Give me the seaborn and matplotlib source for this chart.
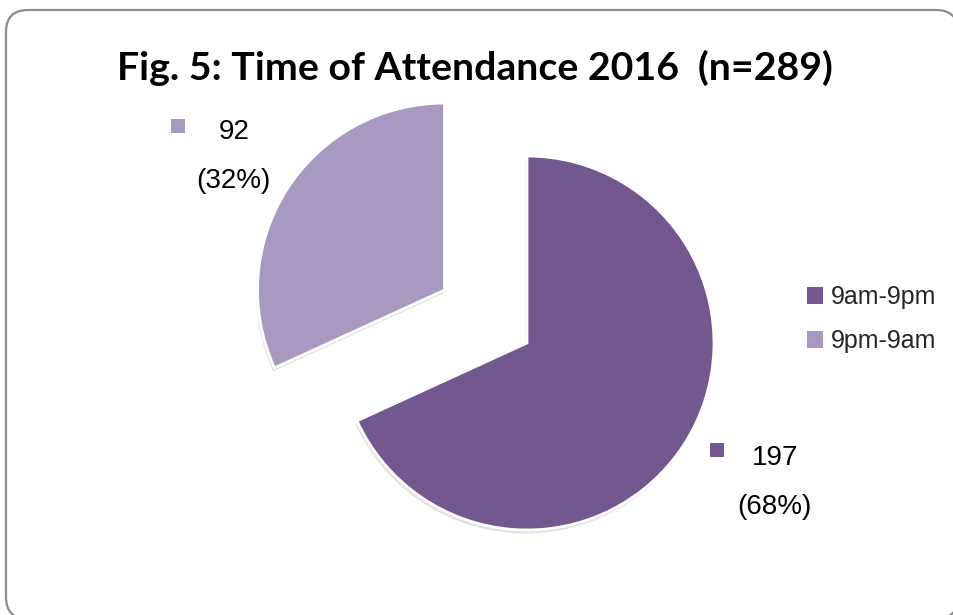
import matplotlib
matplotlib.use("Agg")
import matplotlib.pyplot as plt
import matplotlib.patheffects as pe
from matplotlib.patches import FancyBboxPatch
import seaborn as sns

# Data
categories = ["9am-9pm", "9pm-9am"]
counts = [197, 92]
total_n = 289
title = f"Fig. 5: Time of Attendance 2016  (n={total_n})"

sns.set_theme(style="white")
plt.rcParams["font.family"] = ["Liberation Sans", "DejaVu Sans"]

palette = sns.color_palette(["#72588F", "#A899C0"])

W, H = 954, 615
fig = plt.figure(figsize=(W / 100, H / 100), dpi=100)
ax = fig.add_axes([0, 0, 1, 1])
ax.set_xlim(0, W)
ax.set_ylim(0, H)
ax.set_aspect("equal")
ax.axis("off")


def Y(y):
    """Convert a top-down pixel row to the axes' bottom-up coordinate."""
    return H - y


# Rounded frame around the chart area
left, top, right, bottom = 6, 10, 958, 619
frame = FancyBboxPatch((left, Y(bottom)), right - left, bottom - top,
                       boxstyle="round,pad=0,rounding_size=22",
                       facecolor="white", edgecolor="#8c8c8c", lw=1.6,
                       clip_on=False, zorder=0)
ax.add_patch(frame)

# Pie
radius = 187
center = (527, Y(343))
wedges, _ = ax.pie(counts, colors=palette, startangle=90, counterclock=False,
                   radius=radius, center=center, explode=[0, 98],
                   wedgeprops=dict(edgecolor="white", linewidth=2))
for w in wedges:
    w.set_zorder(2)
    w.set_path_effects([
        pe.SimplePatchShadow(offset=(-1, -2.5), shadow_rgbFace="#8a8a8a", alpha=0.25),
        pe.Normal(),
    ])
ax.set_xlim(0, W)
ax.set_ylim(0, H)

# Data labels with a small colour key
pcts = [round(100 * c / total_n) for c in counts]
label_pos = [(775, 458, 717, 450), (234, 132, 178, 126)]
for (tx, ty, mx, my), c, p, col in zip(label_pos, counts, pcts, palette):
    ax.text(tx, Y(ty), f"{c}", ha="center", va="center", fontsize=20, color="black")
    ax.text(tx - 1, Y(ty + 49), f"({p}%)", ha="center", va="center", fontsize=20, color="black")
    ax.scatter([mx], [Y(my)], marker="s", s=95, color=col, linewidths=0, zorder=3)

# Legend
leg = ax.legend(wedges, categories, loc="upper left",
                bbox_to_anchor=(797 / W, 1 - 275 / H), bbox_transform=fig.transFigure,
                frameon=False, fontsize=18, handlelength=0.65, handleheight=0.65,
                handletextpad=0.3, labelspacing=0.8, borderaxespad=0)
for h in leg.legend_handles:
    h.set_edgecolor("none")
    h.set_path_effects([])

# Title, fitted to its width
t = ax.text(475, Y(80), title, ha="center", va="baseline",
            fontsize=40, fontweight="bold", family=["Lato", "DejaVu Sans"], color="black")
fig.canvas.draw()
ext = t.get_window_extent()
t.set_fontsize(40 * 716 / ext.width)

fig.savefig("out.png", dpi=100, facecolor="white")
